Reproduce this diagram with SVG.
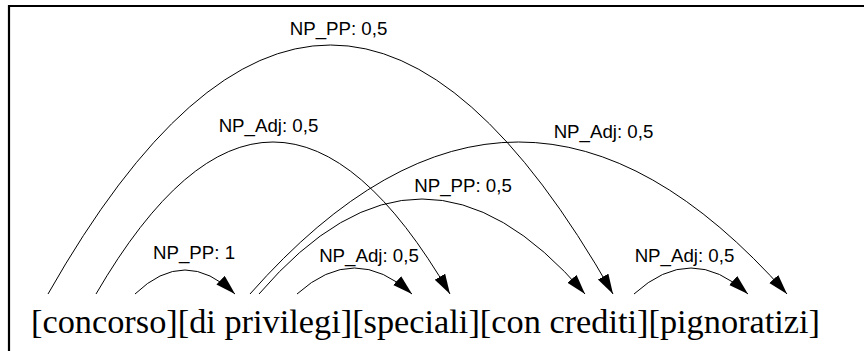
<svg xmlns="http://www.w3.org/2000/svg" width="864" height="351" viewBox="0 0 864 351">
<style>
.arc{fill:none;stroke:#000;stroke-width:1;marker-end:url(#ah)}
.lbl{font-family:"Liberation Sans",Arial,sans-serif;font-size:18.7px;fill:#000}
.words{font-family:"Liberation Serif","Times New Roman",serif;font-size:33.5px;fill:#000}
</style>
<defs>
<marker id="ah" markerUnits="userSpaceOnUse" markerWidth="24" markerHeight="14" refX="20" refY="6" orient="auto" viewBox="0 0 24 14">
<path d="M0,0 L20,6 L0,12 Z" fill="#000"/>
</marker>
</defs>
<rect width="864" height="351" fill="#fff"/>
<path d="M9,351 V6 H864" fill="none" stroke="#000" stroke-width="2.2"/>
<g id="connectors">
<path class="arc" d="M48,294 Q330.5,-204 613,294"/>
<path class="arc" d="M96,294 Q273,-10 450,294"/>
<path class="arc" d="M135,294 Q185,246 235,294"/>
<path class="arc" d="M250,294 Q518.5,-10 787,294"/>
<path class="arc" d="M259,294 Q422,104 585,294"/>
<path class="arc" d="M297,294 Q354.5,242 412,294"/>
<path class="arc" d="M634,294 Q691,242 748,294"/>
</g>
<g id="labels">
<text class="lbl" x="338.5" y="35" text-anchor="middle">NP_PP: 0,5</text>
<text class="lbl" x="268.5" y="132" text-anchor="middle">NP_Adj: 0,5</text>
<text class="lbl" x="603.5" y="138" text-anchor="middle">NP_Adj: 0,5</text>
<text class="lbl" x="463" y="192" text-anchor="middle">NP_PP: 0,5</text>
<text class="lbl" x="194" y="259" text-anchor="middle">NP_PP: 1</text>
<text class="lbl" x="369" y="262" text-anchor="middle">NP_Adj: 0,5</text>
<text class="lbl" x="684.5" y="262" text-anchor="middle">NP_Adj: 0,5</text>
</g>
<g id="sentence">
<text class="words" x="31" y="333" textLength="789" lengthAdjust="spacingAndGlyphs">[concorso][di privilegi][speciali][con crediti][pignoratizi]</text>
</g>
</svg>
